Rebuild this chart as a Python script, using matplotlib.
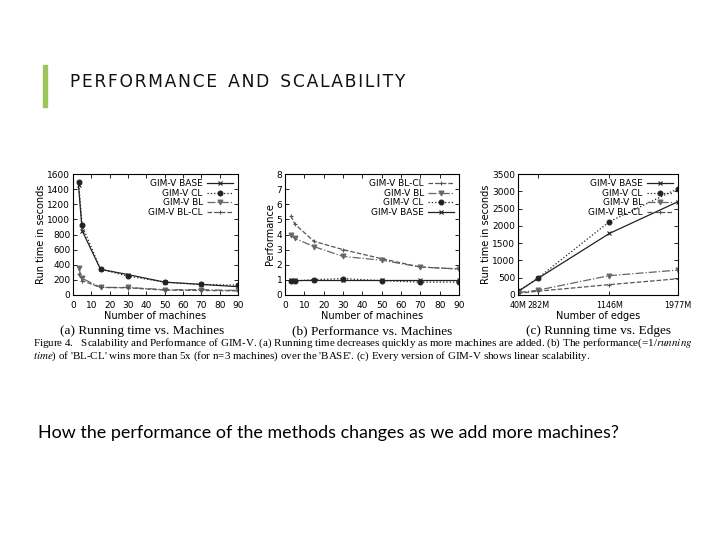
import matplotlib
matplotlib.use("Agg")
import matplotlib.pyplot as plt
from matplotlib.patches import Rectangle

# data
machines = [3, 5, 15, 30, 50, 70, 90]
run_base = [1450, 850, 340, 270, 170, 140, 110]
run_cl = [1500, 920, 340, 250, 170, 140, 130]
run_bl = [360, 220, 100, 100, 70, 70, 60]
run_blcl = [280, 190, 100, 95, 65, 60, 55]

perf_blcl = [5.25, 4.7, 3.55, 3.0, 2.4, 1.85, 1.72]
perf_bl = [3.95, 3.75, 3.2, 2.55, 2.3, 1.85, 1.72]
perf_cl = [0.95, 0.92, 1.02, 1.08, 0.95, 0.85, 0.85]
perf_base = [1, 1, 1, 1, 1, 1, 1]

edges = [40, 282, 1146, 1977]
edge_labels = ["40M", "282M", "1146M", "1977M"]
edge_base = [100, 480, 1780, 2700]
edge_cl = [110, 490, 2120, 3080]
edge_bl = [70, 140, 560, 720]
edge_blcl = [50, 110, 300, 470]

styles = {
    "GIM-V BASE": dict(color="#222222", ls="-", marker="x"),
    "GIM-V CL": dict(color="#222222", ls=":", marker="o"),
    "GIM-V BL": dict(color="#666666", ls="-.", marker="v"),
    "GIM-V BL-CL": dict(color="#555555", ls="--", marker="+"),
}

fig = plt.figure(figsize=(7.2, 5.4), dpi=100)
fig.patch.set_facecolor("white")

# slide decoration
fig.patches.append(Rectangle((43 / 720, 1 - 107 / 540), 4 / 720, 42 / 540,
                             transform=fig.transFigure, color="#9bc45a"))
title = "PERFORMANCE AND SCALABILITY"
title_spaced = "  ".join("\u200a".join(w) for w in title.split())
fig.text(70 / 720, 1 - 82 / 540, title_spaced,
         family="DejaVu Sans", fontsize=12.3,
         va="center", ha="left", color="#111111")


def style_axes(ax):
    ax.tick_params(direction="in", top=True, right=True, labelsize=6.5,
                   length=3, width=0.6, pad=2)
    ax.tick_params(axis="x", pad=4)
    for s in ax.spines.values():
        s.set_linewidth(0.8)


def draw(ax, x, series, order):
    for name in order:
        st = styles[name]
        ax.plot(x, series[name], color=st["color"], ls=st["ls"], lw=0.9,
                marker=st["marker"], ms=3.5, mew=0.8, label=name)
    leg = ax.legend(loc="upper right", fontsize=6.5, frameon=False,
                    markerfirst=False, handlelength=2.8, labelspacing=0.05,
                    borderaxespad=0.2, handletextpad=0.5)
    return leg


order = ["GIM-V BASE", "GIM-V CL", "GIM-V BL", "GIM-V BL-CL"]

# (a)
axa = fig.add_axes([73 / 720, 1 - 295 / 540, 165 / 720, 121 / 540])
draw(axa, machines, {"GIM-V BASE": run_base, "GIM-V CL": run_cl,
                     "GIM-V BL": run_bl, "GIM-V BL-CL": run_blcl}, order)
axa.set_xlim(0, 90)
axa.set_ylim(0, 1600)
axa.set_xticks(range(0, 91, 10))
axa.set_yticks(range(0, 1601, 200))
axa.set_xlabel("Number of machines", fontsize=7, labelpad=1)
axa.set_ylabel("Run time in seconds", fontsize=7, labelpad=1)
style_axes(axa)

# (b)
axb = fig.add_axes([285 / 720, 1 - 295 / 540, 174 / 720, 121 / 540])
draw(axb, machines, {"GIM-V BASE": perf_base, "GIM-V CL": perf_cl,
                     "GIM-V BL": perf_bl, "GIM-V BL-CL": perf_blcl},
     ["GIM-V BL-CL", "GIM-V BL", "GIM-V CL", "GIM-V BASE"])
axb.set_xlim(0, 90)
axb.set_ylim(0, 8)
axb.set_xticks(range(0, 91, 10))
axb.set_yticks(range(0, 9))
axb.set_xlabel("Number of machines", fontsize=7, labelpad=1)
axb.set_ylabel("Performance", fontsize=7, labelpad=1)
style_axes(axb)

# (c)
axc = fig.add_axes([518 / 720, 1 - 295 / 540, 160 / 720, 121 / 540])
draw(axc, edges, {"GIM-V BASE": edge_base, "GIM-V CL": edge_cl,
                  "GIM-V BL": edge_bl, "GIM-V BL-CL": edge_blcl}, order)
axc.set_xlim(40, 1977)
axc.set_ylim(0, 3500)
axc.set_xticks(edges)
axc.set_xticklabels(edge_labels)
axc.set_yticks(range(0, 3501, 500))
axc.set_xlabel("Number of edges", fontsize=7, labelpad=1)
axc.set_ylabel("Run time in seconds", fontsize=7, labelpad=1)
style_axes(axc)
axc.tick_params(axis="x", labelsize=5.8)

serif = ["Liberation Serif", "DejaVu Serif"]
plt.rcParams["mathtext.fontset"] = "stix"
fig.text(142 / 720, 1 - 331 / 540, "(a) Running time vs. Machines",
         family=serif, fontsize=9.5, ha="center", va="center")
fig.text(372 / 720, 1 - 331 / 540, "(b) Performance vs. Machines",
         family=serif, fontsize=9.5, ha="center", va="center")
fig.text(598 / 720, 1 - 331 / 540, "(c) Running time vs. Edges",
         family=serif, fontsize=9.5, ha="center", va="center")

fig.text(33 / 720, 1 - 343 / 540,
         "Figure 4.   Scalability and Performance of GIM-V. (a) Running time decreases "
         "quickly as more machines are added. (b) The performance(=1/$\\mathit{running}$",
         family=serif, fontsize=7.9, ha="left", va="center")
fig.text(33 / 720, 1 - 356 / 540,
         "$\\mathit{time}$) of 'BL-CL' wins more than 5x (for n=3 machines) over the "
         "'BASE'. (c) Every version of GIM-V shows linear scalability.",
         family=serif, fontsize=7.9, ha="left", va="center")

fig.text(38 / 720, 1 - 433 / 540,
         "How the performance of the methods changes as we add more machines?",
         family=["Lato", "DejaVu Sans"], fontsize=12.9, ha="left", va="center")

fig.savefig("out.png", dpi=100)
